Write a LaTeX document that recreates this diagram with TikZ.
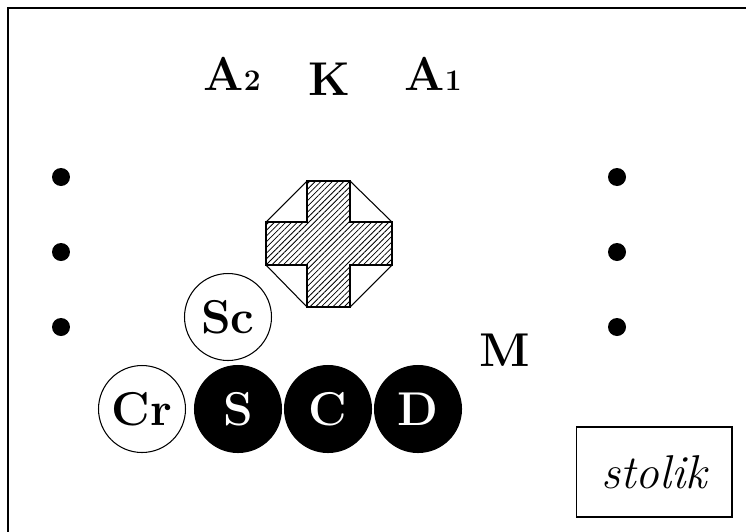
\documentclass[tikz,border=0pt]{standalone}
\usepackage{tikz}
\usetikzlibrary{patterns.meta}

\begin{document}
\begin{tikzpicture}[x=0.02cm,y=-0.02cm,
  every node/.style={font=\fontsize{27}{32}\selectfont\bfseries},
  player/.style={draw,circle,minimum size=1.74cm,inner sep=0pt,line width=0.6pt},
  ball/.style={player,fill=black,text=white},
  dot/.style={circle,fill=black,minimum size=0.36cm,inner sep=0pt}]
\useasboundingbox (0,0) rectangle (746,531);
\clip (0,0) rectangle (746,531);
\draw[line width=1.2pt] (8,8) rectangle (760,545);
% top labels
\node[anchor=base] (a2) at (232,90) {A{\fontsize{17}{17}\selectfont 2}};
\node[anchor=base] (k) at (329,95) {K};
\node[anchor=base] (a1) at (433,90) {A{\fontsize{17}{17}\selectfont 1}};
% side dots
\foreach \y [count=\i] in {177,252,327}{
  \node[dot] (l\i) at (61,\y) {};
  \node[dot] (r\i) at (617,\y) {};
}
% octagon with hatched cross
\draw[line width=0.6pt] (307,181) -- (350,181) -- (392,222) -- (392,265) -- (350,307) -- (307,307) -- (266,265) -- (266,222) -- cycle;
\draw[line width=0.6pt,pattern={Lines[angle=45,distance=2.3pt,line width=0.45pt]}] (307,181) -- (350,181) -- (350,222) -- (392,222) -- (392,265) -- (350,265) -- (350,307) -- (307,307) -- (307,265) -- (266,265) -- (266,222) -- (307,222) -- cycle;
% players
\node[player] (sc) at (228,317) {Sc};
\node[player] (cr) at (142,409) {Cr};
\node[ball] (s) at (238,409) {S};
\node[ball] (c) at (328,409) {C};
\node[ball] (d) at (418,409) {D};
\node[anchor=base] (m) at (505,366) {M};
% table
\node[draw,line width=0.6pt,minimum width=3.12cm,minimum height=1.8cm,font=\fontsize{27}{32}\selectfont\itshape] (stolik) at (654,472) {stolik};
\end{tikzpicture}
\end{document}
